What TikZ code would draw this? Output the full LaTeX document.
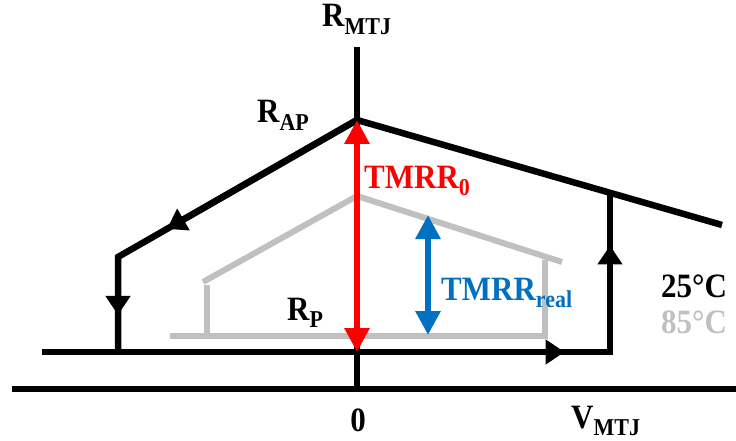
\documentclass[tikz,border=0pt]{standalone}
\usepackage{fontspec}
\setmainfont{Liberation Serif}
\usetikzlibrary{arrows.meta,calc}
\definecolor{lgray}{HTML}{C0C0C0}
\definecolor{tblue}{HTML}{0070C0}
\definecolor{tred}{HTML}{FF0000}
\newcommand{\mysub}[1]{\raisebox{-7pt}{\fontsize{22}{22}\selectfont #1}}
\newcommand{\tall}[1]{\scalebox{1}[1.1]{#1}}
\tikzset{
  lbl/.style={inner sep=0pt, font=\fontsize{31}{31}\selectfont\bfseries, anchor=base west},
  axisline/.style={line width=6.5pt, black},
  curve/.style={line width=6.5pt, black, line join=miter},
  gcurve/.style={line width=6pt, lgray},
  tiparrow/.style={line width=6.5pt, black, -{Triangle[length=19pt,width=24pt]}},
  dblarrow/.style={line width=6pt, {Triangle[length=24pt,width=24pt]}-{Triangle[length=24pt,width=24pt]}}
}
\begin{document}
\begin{tikzpicture}[x=1pt,y=-1pt]
\useasboundingbox (0,0) rectangle (736,441);
% coordinates
\coordinate (ytop) at (357,47);
\coordinate (orig) at (357,389);
\coordinate (xl) at (12,389);
\coordinate (xr) at (736,389);
\coordinate (apex) at (357,120);
\coordinate (L) at (118,257);
\coordinate (LB) at (118,352);
\coordinate (B0) at (42,352);
\coordinate (BR) at (610,352);
\coordinate (RT) at (610,193);
\coordinate (Rend) at (722,225);
\coordinate (gapex) at (357,196);
\coordinate (gL) at (203,282);
\coordinate (gLt) at (207,285);
\coordinate (gLb) at (207,336);
\coordinate (gB0) at (170,336);
\coordinate (gB1) at (548,336);
\coordinate (gRb) at (545,336);
\coordinate (gRt) at (545,260);
\coordinate (gR) at (562,262);
\coordinate (rtop) at (357,120);
\coordinate (rbot) at (357,352);
\coordinate (btop) at (428,215);
\coordinate (bbot) at (428,335);
\coordinate (tipA) at ($(apex)!0.795!(L)$);
\coordinate (tipB) at ($(L)!0.61!(LB)$);
\coordinate (tipC) at ($(B0)!0.92!(BR)$);
\coordinate (tipD) at ($(BR)!0.67!(RT)$);
% axes
\draw[axisline] (ytop) -- (orig);
\draw[axisline] (xl) -- (xr);
% gray 85C curve
\draw[gcurve] (gapex) -- (gL);
\draw[gcurve] (gLt) -- (gLb);
\draw[gcurve] (gB0) -- (gB1);
\draw[gcurve] (gRb) -- (gRt);
\draw[gcurve] (gapex) -- (gR);
% black 25C curve
\draw[curve] (B0) -- (BR) -- (RT);
\draw[curve] (apex) -- (Rend);
\draw[curve] (apex) -- (L) -- (LB);
\draw[tiparrow] (apex) -- (tipA);
\draw[tiparrow] (L) -- (tipB);
\draw[tiparrow] (B0) -- (tipC);
\draw[tiparrow] (BR) -- (tipD);
% TMR arrows
\draw[dblarrow, tred] (rtop) -- (rbot);
\draw[dblarrow, tblue] (btop) -- (bbot);
% labels
\node[lbl] (rmtj) at (322,27) {\tall{R\mysub{MTJ}}};
\node[lbl] (rap) at (257,123) {\tall{R\mysub{AP}}};
\node[lbl] (rp) at (287,320) {\tall{R\mysub{P}}};
\node[lbl, anchor=base] (zero) at (358,431) {\tall{0}};
\node[lbl] (vmtj) at (571,428) {\tall{V\mysub{MTJ}}};
\node[lbl, text=tred] (tmr0) at (364,188) {\tall{TMRR\mysub{0}}};
\node[lbl, text=tblue] (tmrr) at (441,300) {\tall{TMRR\mysub{real}}};
\node[lbl] (t25) at (661,297) {\tall{25°C}};
\node[lbl, text=lgray] (t85) at (661,333) {\tall{85°C}};
\end{tikzpicture}
\end{document}
